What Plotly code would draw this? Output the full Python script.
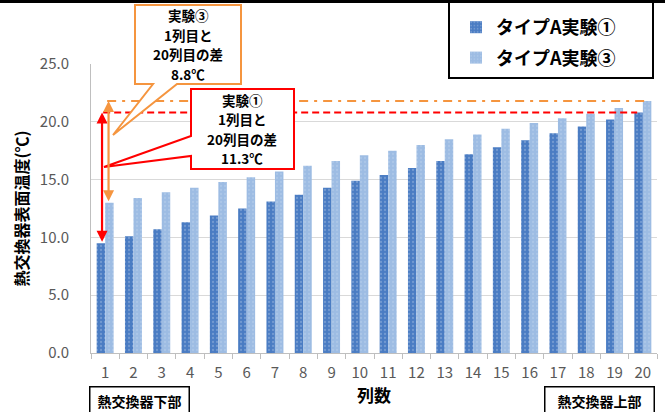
import plotly.graph_objects as go

# ---------------- data ----------------
columns = [str(i) for i in range(1, 21)]
exp1 = [9.5, 10.1, 10.7, 11.3, 11.9, 12.5, 13.1, 13.7, 14.3, 14.9,
        15.4, 16.0, 16.6, 17.2, 17.8, 18.4, 19.0, 19.6, 20.2, 20.8]
exp3 = [13.0, 13.4, 13.9, 14.3, 14.8, 15.2, 15.7, 16.2, 16.6, 17.1,
        17.5, 18.0, 18.5, 18.9, 19.4, 19.9, 20.3, 20.7, 21.2, 21.8]
series_names = ["タイプA実験①", "タイプA実験③"]
y_ticks = [0, 5, 10, 15, 20, 25]
y_title = "熱交換器表面温度(℃)"
x_title = "列数"
note1 = ["実験①", "1列目と", "20列目の差", "11.3℃"]
note3 = ["実験③", "1列目と", "20列目の差", "8.8℃"]
bottom_left_label = "熱交換器下部"
bottom_right_label = "熱交換器上部"

# ---------------- layout geometry ----------------
W, H = 665, 412
L, R, T, B = 91, 657, 64, 353
FONT = "Noto Sans CJK JP, Noto Sans, sans-serif"
DARK = "#4a7cc3"
LIGHT = "#9dbce3"
ORANGE = "#f5953f"
RED = "#ff0000"
NOTE_SIZE = 13.5
LINE_STEP = 19.6


def px(x):
    return (x - L) / (R - L)


def py(y):
    return (B - y) / (B - T)


fig = go.Figure()
fig.add_trace(go.Bar(
    x=columns, y=exp1, name=series_names[0], legendgroup="a",
    marker=dict(color=DARK, line=dict(width=0),
                pattern=dict(shape=".", fgcolor="rgba(255,255,255,0.45)",
                             size=4, solidity=0.25, fillmode="overlay")),
))
fig.add_trace(go.Bar(
    x=columns, y=exp3, name=series_names[1], legendgroup="b",
    marker=dict(color=LIGHT, line=dict(width=0),
                pattern=dict(shape=".", fgcolor="rgba(255,255,255,0.3)",
                             size=4, solidity=0.25, fillmode="overlay")),
))

shapes = []
# top black rule
shapes.append(dict(type="line", xref="paper", yref="paper",
                   x0=px(0), x1=px(W), y0=py(1.5), y1=py(1.5),
                   line=dict(color="black", width=3)))
# horizontal reference lines at the column-20 values
shapes.append(dict(type="line", xref="x", yref="y", x0=-0.07, x1=18.8,
                   y0=exp1[-1], y1=exp1[-1],
                   line=dict(color=RED, width=2, dash="7px,4px")))
shapes.append(dict(type="line", xref="x", yref="y", x0=0.07, x1=19.08,
                   y0=exp3[-1], y1=exp3[-1],
                   line=dict(color=ORANGE, width=2, dash="9px,6px,3px,6px")))


def path(points):
    return "M " + " L ".join(f"{px(a):.5f},{py(b):.5f}" for a, b in points) + " Z"


# orange callout with tail
shapes.append(dict(type="path", xref="paper", yref="paper",
                   path=path([(135, 5), (241, 5), (241, 84), (177, 84),
                              (113, 135), (153, 84), (135, 84)]),
                   fillcolor="white", line=dict(color=ORANGE, width=2)))
# red callout with tail
shapes.append(dict(type="path", xref="paper", yref="paper",
                   path=path([(191, 89), (294, 89), (294, 169), (191, 169),
                              (191, 156), (104, 167), (191, 136)]),
                   fillcolor="white", line=dict(color=RED, width=2)))
# legend frame
shapes.append(dict(type="rect", xref="paper", yref="paper",
                   x0=px(449), x1=px(653), y0=py(78), y1=py(2),
                   fillcolor="white", line=dict(color="black", width=2)))

annotations = []
# double-headed arrows showing the spread between column 1 and column 20
annotations.append(dict(xref="x", yref="y", axref="x", ayref="y",
                        x=-0.11, y=exp1[-1], ax=-0.11, ay=exp1[0], text="",
                        showarrow=True, arrowside="end+start", arrowhead=2,
                        arrowsize=1, arrowwidth=2.2, arrowcolor=RED))
annotations.append(dict(xref="x", yref="y", axref="x", ayref="y",
                        x=0.12, y=exp3[-1], ax=0.12, ay=exp3[0], text="",
                        showarrow=True, arrowside="end+start", arrowhead=2,
                        arrowsize=1, arrowwidth=2.2, arrowcolor=ORANGE))


def note_lines(lines, cx, cy):
    n = len(lines)
    for i, txt in enumerate(lines):
        yy = cy + (i - (n - 1) / 2) * LINE_STEP
        annotations.append(dict(xref="paper", yref="paper", x=px(cx), y=py(yy),
                                text=txt, showarrow=False, xanchor="center",
                                yanchor="middle",
                                font=dict(family=FONT, size=NOTE_SIZE,
                                          color="black", weight="bold")))


note_lines(note3, 188, 44.5)
note_lines(note1, 242, 129)

# bottom labels
annotations.append(dict(xref="paper", yref="paper", x=px(139.5), y=py(401),
                        text=bottom_left_label, showarrow=False,
                        xanchor="center", yanchor="middle", width=92,
                        bordercolor="black", borderwidth=1.5, borderpad=3,
                        bgcolor="white",
                        font=dict(family=FONT, size=14, color="black",
                                  weight="bold")))
annotations.append(dict(xref="paper", yref="paper", x=px(599.5), y=py(401),
                        text=bottom_right_label, showarrow=False,
                        xanchor="center", yanchor="middle", width=102,
                        bordercolor="black", borderwidth=1.5, borderpad=3,
                        bgcolor="white",
                        font=dict(family=FONT, size=14, color="black",
                                  weight="bold")))

fig.update_layout(
    width=W, height=H,
    margin=dict(l=L, r=W - R, t=T, b=H - B, autoexpand=False),
    paper_bgcolor="white", plot_bgcolor="white",
    barmode="group", bargap=0.4, bargroupgap=0.0,
    font=dict(family=FONT, color="#595959"),
    showlegend=True,
    legend=dict(x=px(456), y=py(9), xanchor="left", yanchor="top",
                bgcolor="rgba(0,0,0,0)", borderwidth=0,
                tracegroupgap=4, itemclick=False, itemdoubleclick=False,
                font=dict(family=FONT, size=18, color="black", weight="bold")),
    shapes=shapes,
    annotations=annotations,
    xaxis=dict(type="category", showgrid=False, showline=True,
               linecolor="#bfbfbf", linewidth=1, ticks="outside",
               tickson="boundaries", ticklen=5, tickcolor="#bfbfbf",
               ticklabelstandoff=6,
               tickfont=dict(family=FONT, size=15, color="#595959"),
               title=dict(text=x_title, standoff=8,
                          font=dict(family=FONT, size=17, color="black",
                                    weight="bold"))),
    yaxis=dict(range=[0, 25], tickvals=y_ticks, tickformat=".1f",
               showgrid=True, gridcolor="#d9d9d9", gridwidth=1,
               showline=True, linecolor="#bfbfbf", linewidth=1,
               zeroline=False, ticks="", ticklabelstandoff=18,
               tickfont=dict(family=FONT, size=15, color="#595959"),
               title=dict(text=y_title, standoff=7,
                          font=dict(family=FONT, size=16, color="black",
                                    weight="bold"))),
)

fig.write_html("out.html")
